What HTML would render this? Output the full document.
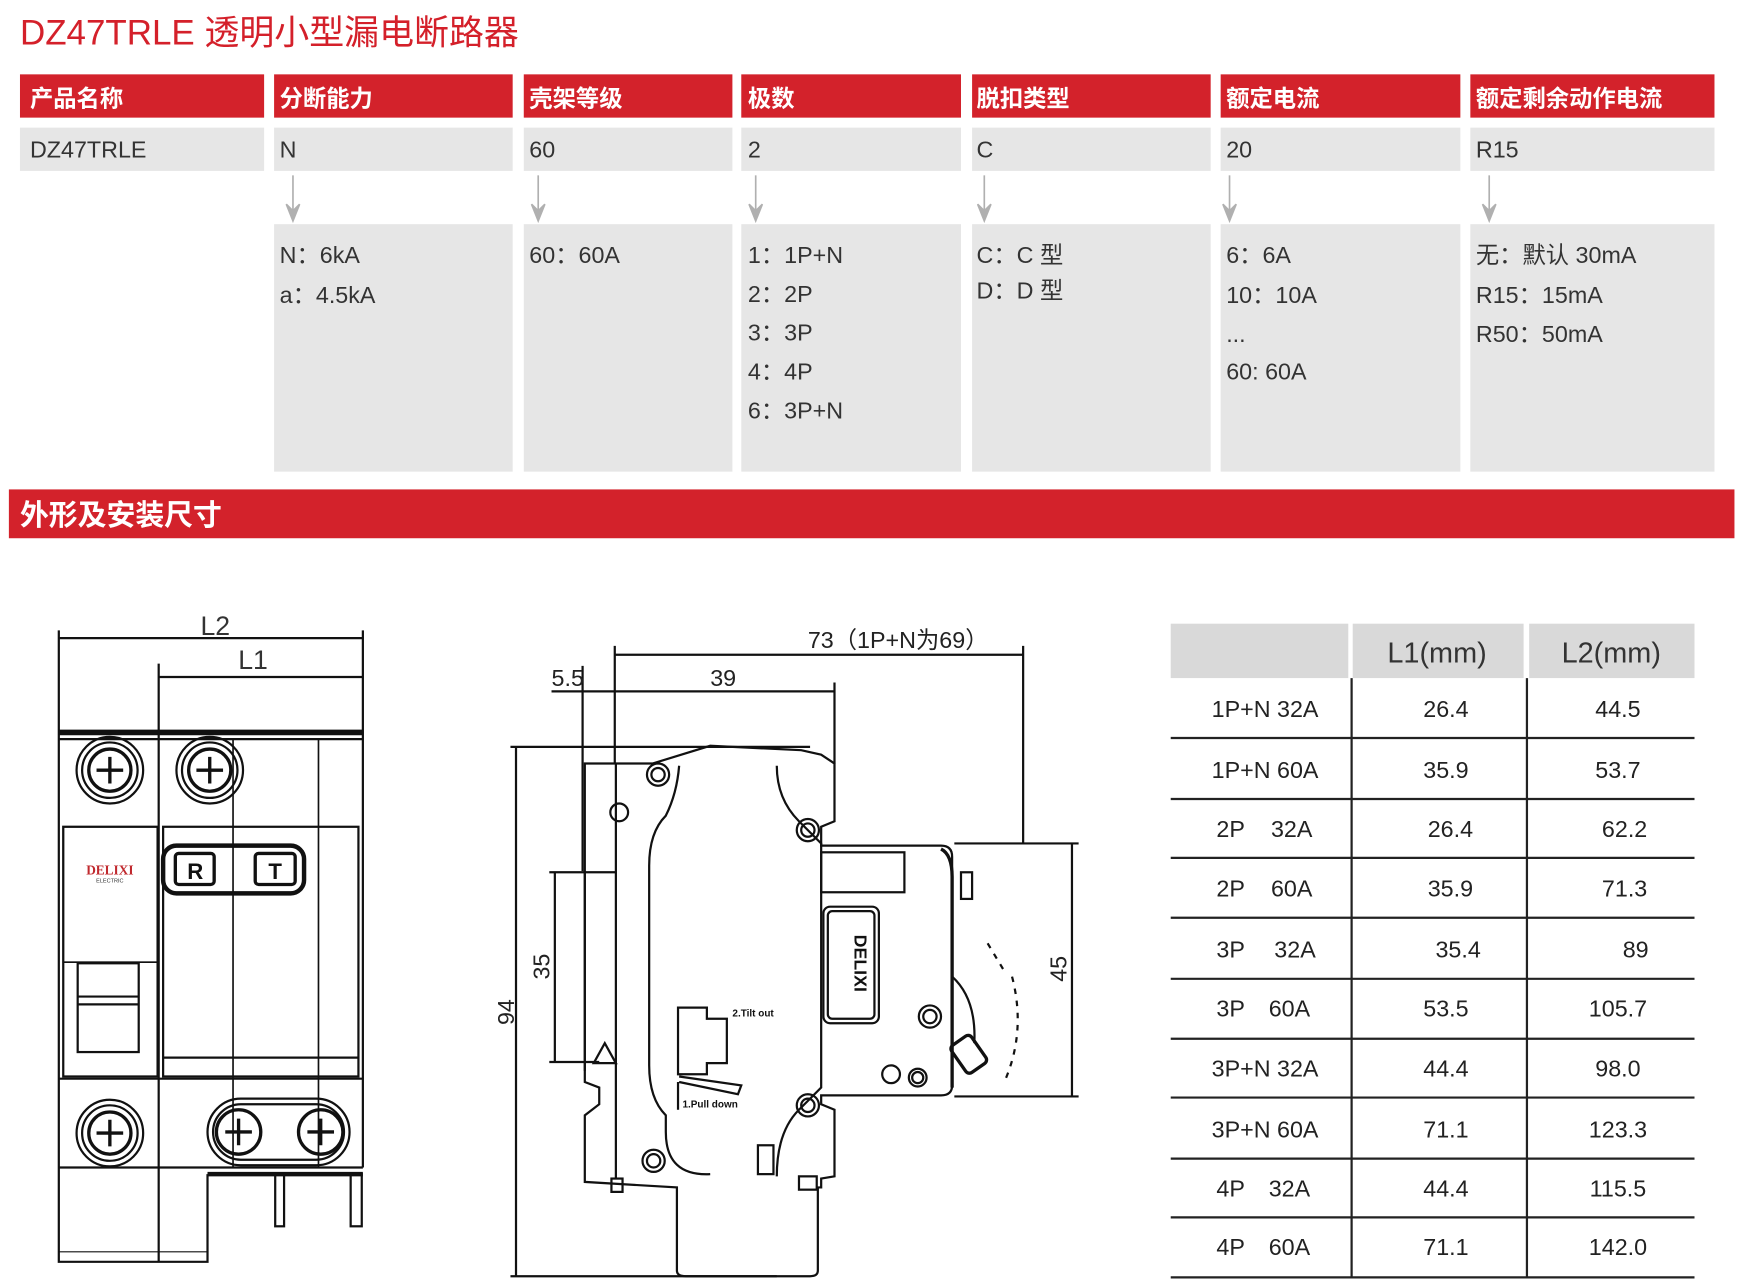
<!DOCTYPE html>
<html><head><meta charset="utf-8"><style>
html,body{margin:0;padding:0;background:#fff;}
svg{display:block;}
.t{font-family:"Liberation Sans","Noto Sans CJK SC",sans-serif;}
</style></head><body>
<svg width="1740" height="1284" viewBox="0 0 1568 1157" preserveAspectRatio="none" xmlns="http://www.w3.org/2000/svg" class="t">
<text x="18" y="40" font-size="31.5" fill="#d4202a">DZ47TRLE 透明小型漏电断路器</text>
<g fill="#d3222b">
<rect x="18" y="67" width="220" height="39"/><rect x="247" y="67" width="215" height="39"/><rect x="472" y="67" width="188" height="39"/><rect x="668" y="67" width="198" height="39"/><rect x="876" y="67" width="215" height="39"/><rect x="1100" y="67" width="216" height="39"/><rect x="1325" y="67" width="220" height="39"/>
</g>
<g fill="#fff" font-size="21" font-weight="bold">
<text x="27" y="96">产品名称</text><text x="252" y="96">分断能力</text><text x="477" y="96">壳架等级</text><text x="674" y="96">极数</text><text x="880" y="96">脱扣类型</text><text x="1105" y="96">额定电流</text><text x="1330" y="96">额定剩余动作电流</text>
</g>
<g fill="#e6e6e6">
<rect x="18" y="115" width="220" height="39"/><rect x="247" y="115" width="215" height="39"/><rect x="472" y="115" width="188" height="39"/><rect x="668" y="115" width="198" height="39"/><rect x="876" y="115" width="215" height="39"/><rect x="1100" y="115" width="216" height="39"/><rect x="1325" y="115" width="220" height="39"/>
<rect x="247" y="202" width="215" height="223"/><rect x="472" y="202" width="188" height="223"/><rect x="668" y="202" width="198" height="223"/><rect x="876" y="202" width="215" height="223"/><rect x="1100" y="202" width="216" height="223"/><rect x="1325" y="202" width="220" height="223"/>
</g>
<g fill="#333" font-size="21">
<text x="27" y="142">DZ47TRLE</text><text x="252" y="142">N</text><text x="477" y="142">60</text><text x="674" y="142">2</text><text x="880" y="142">C</text><text x="1105" y="142">20</text><text x="1330" y="142">R15</text>
<text x="252" y="237">N：6kA</text><text x="252" y="273">a：4.5kA</text>
<text x="477" y="237">60：60A</text>
<text x="674" y="237">1：1P+N</text><text x="674" y="272">2：2P</text><text x="674" y="307">3：3P</text><text x="674" y="342">4：4P</text><text x="674" y="377">6：3P+N</text>
<text x="880" y="237">C：C 型</text><text x="880" y="269">D：D 型</text>
<text x="1105" y="237">6：6A</text><text x="1105" y="273">10：10A</text><text x="1105" y="308">...</text><text x="1105" y="342">60: 60A</text>
<text x="1330" y="237">无：默认 30mA</text><text x="1330" y="273">R15：15mA</text><text x="1330" y="308">R50：50mA</text>
</g>
<g stroke="#b0b0b0" stroke-width="1.5" fill="#b0b0b0">
<line x1="264" y1="158" x2="264" y2="196"/><path d="M258,184 L264,199 L270,184 L264,190Z"/>
<line x1="485" y1="158" x2="485" y2="196"/><path d="M479,184 L485,199 L491,184 L485,190Z"/>
<line x1="681" y1="158" x2="681" y2="196"/><path d="M675,184 L681,199 L687,184 L681,190Z"/>
<line x1="887" y1="158" x2="887" y2="196"/><path d="M881,184 L887,199 L893,184 L887,190Z"/>
<line x1="1108" y1="158" x2="1108" y2="196"/><path d="M1102,184 L1108,199 L1114,184 L1108,190Z"/>
<line x1="1342" y1="158" x2="1342" y2="196"/><path d="M1336,184 L1342,199 L1348,184 L1342,190Z"/>
</g>
<rect x="8" y="441" width="1555" height="44" fill="#d3222b"/>
<text x="18" y="473" font-size="26" font-weight="bold" fill="#fff">外形及安装尺寸</text>

<!-- table -->
<g fill="#d9d9d9"><rect x="1055" y="562" width="160" height="49"/><rect x="1219" y="562" width="154" height="49"/><rect x="1378" y="562" width="149" height="49"/></g>
<g font-size="26" fill="#333" text-anchor="middle"><text x="1295" y="597">L1(mm)</text><text x="1452" y="597">L2(mm)</text></g>
<g stroke="#222" stroke-width="2">
<line x1="1218" y1="611" x2="1218" y2="1151"/><line x1="1376" y1="611" x2="1376" y2="1151"/>
<line x1="1055" y1="665" x2="1527" y2="665"/><line x1="1055" y1="720" x2="1527" y2="720"/><line x1="1055" y1="773" x2="1527" y2="773"/><line x1="1055" y1="827" x2="1527" y2="827"/><line x1="1055" y1="882" x2="1527" y2="882"/><line x1="1055" y1="936" x2="1527" y2="936"/><line x1="1055" y1="989" x2="1527" y2="989"/><line x1="1055" y1="1044" x2="1527" y2="1044"/><line x1="1055" y1="1097" x2="1527" y2="1097"/><line x1="1055" y1="1151" x2="1527" y2="1151"/>
</g>
<g font-size="21" fill="#222" text-anchor="middle">
<text x="1140" y="646">1P+N 32A</text><text x="1303" y="646">26.4</text><text x="1458" y="646">44.5</text>
<text x="1140" y="701">1P+N 60A</text><text x="1303" y="701">35.9</text><text x="1458" y="701">53.7</text>
<text x="1109" y="754">2P</text><text x="1164" y="754">32A</text><text x="1307" y="754">26.4</text><text x="1464" y="754">62.2</text>
<text x="1109" y="808">2P</text><text x="1164" y="808">60A</text><text x="1307" y="808">35.9</text><text x="1464" y="808">71.3</text>
<text x="1109" y="863">3P</text><text x="1167" y="863">32A</text><text x="1314" y="863">35.4</text><text x="1474" y="863">89</text>
<text x="1109" y="916">3P</text><text x="1162" y="916">60A</text><text x="1303" y="916">53.5</text><text x="1458" y="916">105.7</text>
<text x="1140" y="970">3P+N 32A</text><text x="1303" y="970">44.4</text><text x="1458" y="970">98.0</text>
<text x="1140" y="1025">3P+N 60A</text><text x="1303" y="1025">71.1</text><text x="1458" y="1025">123.3</text>
<text x="1109" y="1078">4P</text><text x="1162" y="1078">32A</text><text x="1303" y="1078">44.4</text><text x="1458" y="1078">115.5</text>
<text x="1109" y="1131">4P</text><text x="1162" y="1131">60A</text><text x="1303" y="1131">71.1</text><text x="1458" y="1131">142.0</text>
</g>

<!-- left drawing -->
<g stroke="#111" stroke-width="2" fill="none">
<line x1="53" y1="568" x2="53" y2="1052"/><line x1="327" y1="568" x2="327" y2="1052"/>
<line x1="53" y1="575" x2="327" y2="575"/><line x1="143" y1="598" x2="143" y2="660"/><line x1="143" y1="610" x2="327" y2="610"/>
<line x1="53" y1="660" x2="327" y2="660" stroke-width="5"/>
<line x1="53" y1="666" x2="327" y2="666"/>
<line x1="143" y1="660" x2="143" y2="1137"/><line x1="210" y1="666" x2="210" y2="1052" stroke-width="1.5"/><line x1="287" y1="666" x2="287" y2="1052" stroke-width="1.5"/>
<rect x="57" y="745" width="85" height="225"/><rect x="57" y="745" width="85" height="122" stroke-width="1.5"/>
<rect x="147" y="745" width="176" height="225"/>
<line x1="147" y1="953" x2="323" y2="953"/>
<rect x="147" y="762" width="127" height="43" rx="12" stroke-width="4"/>
<rect x="158" y="769" width="35" height="28" rx="3" stroke-width="3"/><rect x="230" y="769" width="36" height="28" rx="3" stroke-width="3"/>
<rect x="70" y="868" width="55" height="80"/><line x1="70" y1="898" x2="125" y2="898"/><line x1="70" y1="905" x2="125" y2="905"/>
<line x1="53" y1="972" x2="327" y2="972"/>
<line x1="53" y1="1052" x2="327" y2="1052"/><line x1="187" y1="1058" x2="327" y2="1058" stroke-width="4"/>
<path d="M53,1052 L53,1137 L187,1137 L187,1058"/><line x1="53" y1="1128" x2="187" y2="1128" stroke-width="1"/>
<rect x="248" y="1058" width="8" height="47"/><rect x="316" y="1058" width="10" height="47"/>
<circle cx="99" cy="694" r="30"/><circle cx="99" cy="694" r="25"/><circle cx="99" cy="694" r="19" stroke-width="3"/>
<circle cx="189" cy="694" r="30"/><circle cx="189" cy="694" r="25"/><circle cx="189" cy="694" r="19" stroke-width="3"/>
<circle cx="99" cy="1021" r="30"/><circle cx="99" cy="1021" r="25"/><circle cx="99" cy="1021" r="19" stroke-width="3"/>
<rect x="187" y="990" width="128" height="60" rx="30"/><rect x="192" y="995" width="118" height="50" rx="25"/>
<circle cx="215" cy="1020" r="20" stroke-width="3"/><circle cx="289" cy="1020" r="20" stroke-width="3"/>
</g>
<g stroke="#111" stroke-width="3"><path d="M87,694h24M99,682v24M177,694h24M189,682v24M87,1021h24M99,1009v24M203,1020h24M215,1008v24M277,1020h24M289,1008v24"/></g>
<text x="194" y="572" font-size="24" text-anchor="middle" fill="#333">L2</text>
<text x="228" y="603" font-size="24" text-anchor="middle" fill="#333">L1</text>
<text x="99" y="788" font-size="12" font-weight="bold" fill="#c0282d" text-anchor="middle" font-family="Liberation Serif,serif">DELIXI</text>
<text x="99" y="795" font-size="5" fill="#333" text-anchor="middle">ELECTRIC</text>
<text x="176" y="792" font-size="20" font-weight="bold" text-anchor="middle" fill="#111">R</text>
<text x="248" y="792" font-size="20" font-weight="bold" text-anchor="middle" fill="#111">T</text>

<!-- middle drawing -->
<g stroke="#111" stroke-width="2" fill="none">
<line x1="554" y1="582" x2="554" y2="688"/><line x1="922" y1="582" x2="922" y2="760"/>
<line x1="554" y1="590" x2="922" y2="590"/>
<line x1="525" y1="600" x2="525" y2="785"/><line x1="752" y1="615" x2="752" y2="688"/>
<line x1="497" y1="623" x2="752" y2="623"/>
<line x1="460" y1="673" x2="730" y2="673"/><line x1="465" y1="673" x2="465" y2="1150"/><line x1="460" y1="1150" x2="700" y2="1150"/>
<line x1="495" y1="786" x2="555" y2="786"/><line x1="500" y1="786" x2="500" y2="957"/><line x1="495" y1="957" x2="540" y2="957"/>
<line x1="860" y1="760" x2="972" y2="760"/><line x1="860" y1="988" x2="972" y2="988"/><line x1="966" y1="760" x2="966" y2="988"/>
<path d="M527,688 L588,688 L640,672 L722,676 L740,680 L752,688 L752,740 L740,745 L740,762 L848,762 Q858,762 858,772 L858,978 Q858,987 848,987 L740,987 L740,995 L752,1000 L752,1060 L740,1062 L740,1070 L737,1070 L737,1145 Q737,1150 730,1150 L618,1150 Q610,1150 610,1145 L610,1070 L527,1065 L527,1005 L540,995 L540,980 L527,975 Z"/>
<path d="M555,688 L555,1062"/>
<path d="M527,785 L527,965"/>
<path d="M700,690 Q700,720 720,740 L740,760 Q740,770 740,980 L720,1000 Q700,1020 700,1060 M640,1058 Q600,1060 600,1020 L600,1005 Q585,990 585,960 L585,780 Q585,750 600,735 Q610,715 612,690"/>
<rect x="740" y="768" width="75" height="36"/>
<rect x="742" y="817" width="50" height="105" rx="6"/><rect x="746" y="821" width="42" height="97" rx="4"/>
<path d="M848,765 Q858,770 858,790 L858,980" stroke-width="3"/>
<rect x="866" y="786" width="10" height="24"/>
<path d="M858,880 Q880,900 878,940"/>
<rect x="862" y="935" width="22" height="30" rx="4" transform="rotate(-35 873 950)" stroke-width="3"/>
<path d="M890,850 L905,875 M912,880 Q925,930 905,975" stroke-dasharray="5,6"/>
<circle cx="593" cy="698" r="10"/><circle cx="593" cy="698" r="6"/>
<circle cx="558" cy="732" r="8"/>
<circle cx="728" cy="748" r="10"/><circle cx="728" cy="748" r="6"/>
<circle cx="838" cy="916" r="10"/><circle cx="838" cy="916" r="6"/>
<circle cx="803" cy="968" r="8"/><circle cx="827" cy="971" r="8"/><circle cx="827" cy="971" r="5"/>
<circle cx="728" cy="996" r="10"/><circle cx="728" cy="996" r="6"/>
<circle cx="589" cy="1046" r="10"/><circle cx="589" cy="1046" r="6"/>
<rect x="683" y="1032" width="14" height="26"/>
<rect x="551" y="1062" width="10" height="12"/>
<rect x="720" y="1060" width="16" height="12"/>
<path d="M611,908 L637,908 L637,918 L655,918 L655,958 L637,958 L637,968 L611,968 Z"/>
<path d="M612,970 L668,978 L665,986 L612,975"/>
<line x1="611" y1="975" x2="611" y2="1000"/>
<path d="M535,958 L545,940 L555,958 Z"/>
</g>
<g font-size="21" fill="#222">
<text x="728" y="584">73（1P+N为69）</text>
<text x="640" y="618">39</text>
<text x="497" y="618">5.5</text>
<text transform="translate(463,912) rotate(-90)" text-anchor="middle">94</text>
<text transform="translate(495,871) rotate(-90)" text-anchor="middle">35</text>
<text transform="translate(961,873) rotate(-90)" text-anchor="middle">45</text>
</g>
<text x="660" y="916" font-size="9" font-weight="bold" fill="#111">2.Tilt out</text>
<text x="615" y="998" font-size="9" font-weight="bold" fill="#111">1.Pull down</text>
<text transform="translate(770,868) rotate(90)" font-size="16" font-weight="bold" fill="#111" text-anchor="middle">DELIXI</text>
</svg>
</body></html>
